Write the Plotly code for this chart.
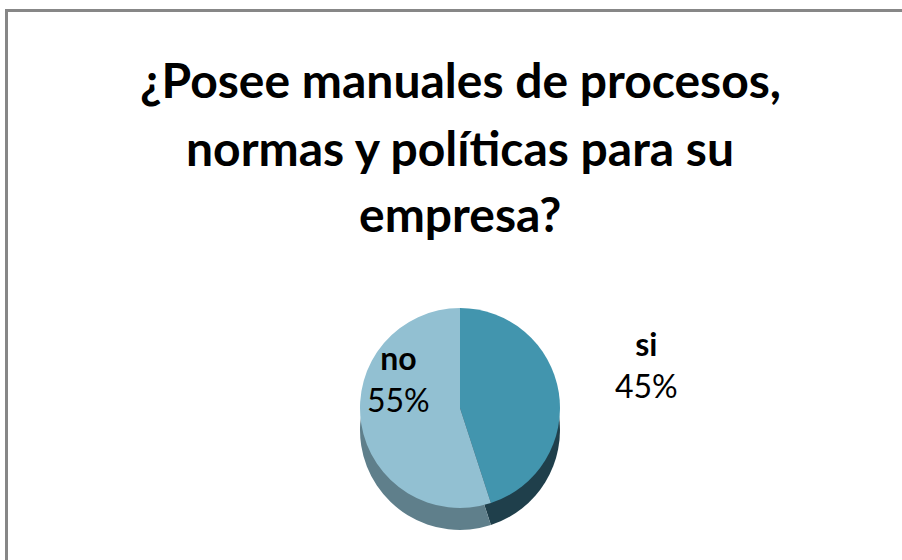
import plotly.graph_objects as go

labels = ["si", "no"]
values = [45, 55]
top_colors = ["#4295ae", "#92c0d2"]
side_colors = ["#1f3f4b", "#5f7f8b"]
title_lines = ["¿Posee manuales de procesos,", "normas y políticas para su", "empresa?"]

W, H = 902, 560
cx = 460
d = 200
top_y = 308
off = 22

def px_x(x):
    return x / W

def px_y(y):
    return 1 - y / H

fig = go.Figure()
# side (depth) layer
fig.add_trace(go.Pie(
    labels=labels, values=values, sort=False, direction="clockwise", rotation=0,
    marker=dict(colors=side_colors, line=dict(width=0)),
    textinfo="none", hoverinfo="skip", showlegend=False,
    domain=dict(x=[px_x(cx - d / 2), px_x(cx + d / 2)],
                y=[px_y(top_y + off + d), px_y(top_y + off)]),
))
# top face
fig.add_trace(go.Pie(
    labels=labels, values=values, sort=False, direction="clockwise", rotation=0,
    marker=dict(colors=top_colors, line=dict(width=0)),
    textinfo="none", showlegend=False,
    domain=dict(x=[px_x(cx - d / 2), px_x(cx + d / 2)],
                y=[px_y(top_y + d), px_y(top_y)]),
))

total = sum(values)
label_pos = {"si": (646, 364), "no": (398, 378)}
annotations = []
for lab, v in zip(labels, values):
    x, y = label_pos[lab]
    annotations.append(dict(
        x=px_x(x), y=px_y(y), xref="paper", yref="paper",
        text=f"<b>{lab}</b><br>{round(100 * v / total)}%",
        showarrow=False, xanchor="center", yanchor="middle",
        font=dict(family="Lato", size=32, color="black"),
    ))

title_y = [80, 148, 213]
for line, y in zip(title_lines, title_y):
    annotations.append(dict(
        x=px_x(cx), y=px_y(y), xref="paper", yref="paper",
        text=f"<b>{line}</b>", showarrow=False,
        xanchor="center", yanchor="middle",
        font=dict(family="Lato", size=48, color="black"),
    ))

fig.update_layout(
    width=W, height=H,
    margin=dict(l=0, r=0, t=0, b=0),
    paper_bgcolor="white", plot_bgcolor="white",
    annotations=annotations,
    shapes=[dict(type="rect", xref="paper", yref="paper",
                 x0=px_x(6.5), x1=1.05, y0=-0.05, y1=px_y(10.5),
                 line=dict(color="#878787", width=3), fillcolor="rgba(0,0,0,0)")],
)

fig.write_html("out.html")
